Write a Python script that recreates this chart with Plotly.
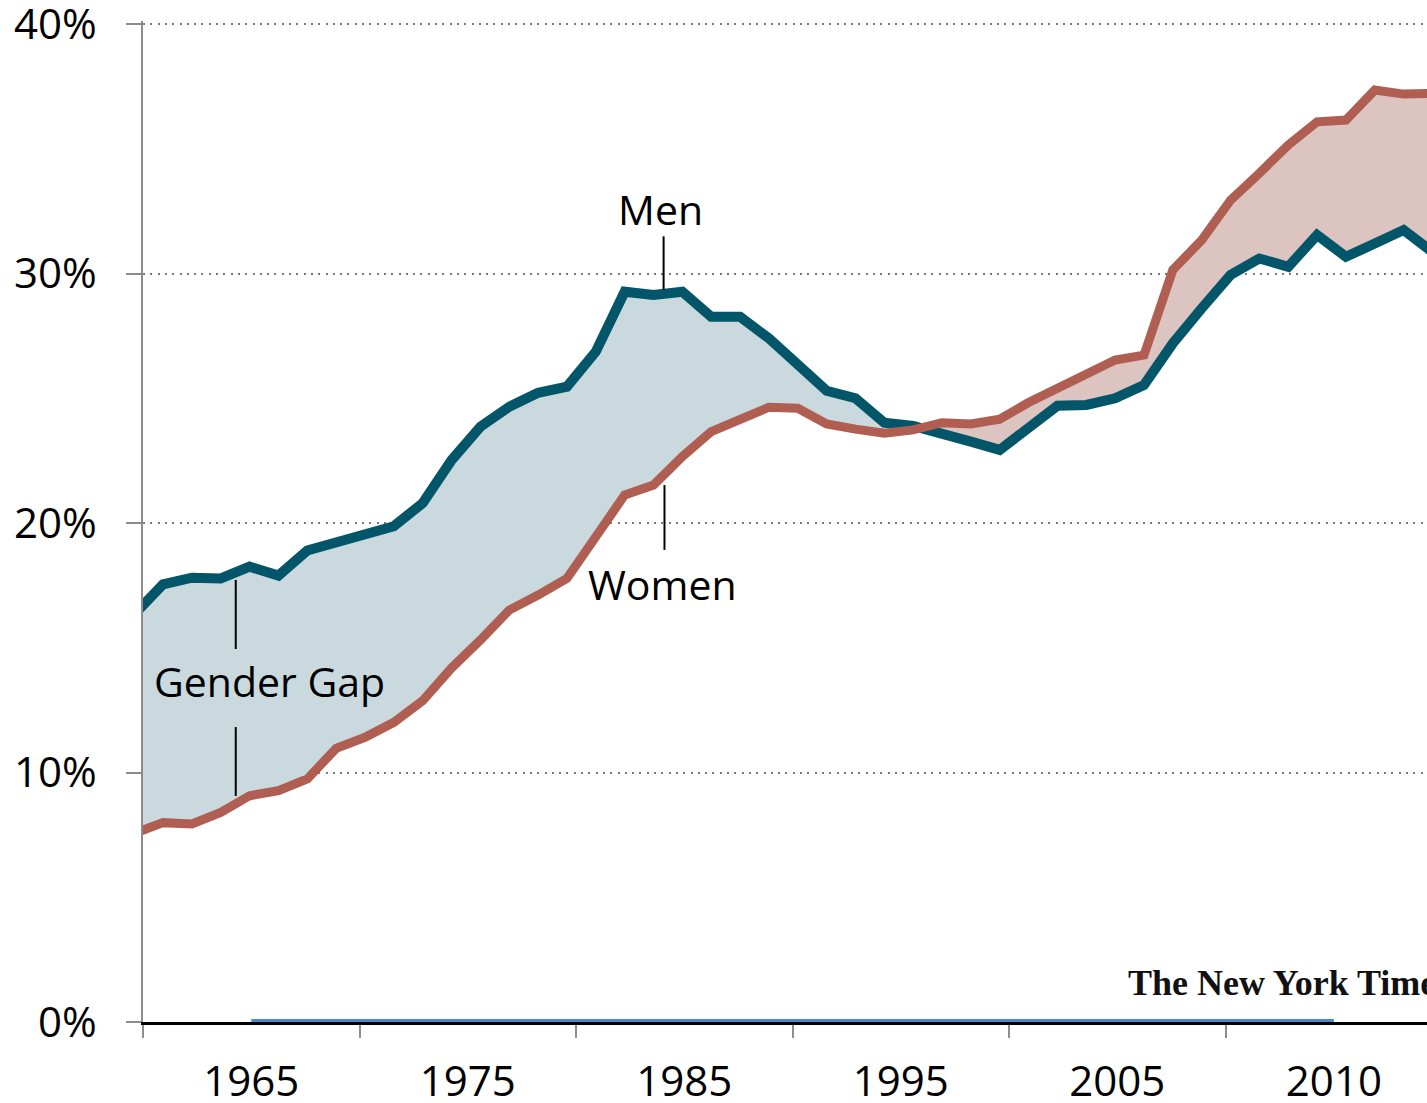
import plotly.graph_objects as go

# --- data (percent), one point every ~1.33 years ---
point = list(range(46))

men = [16.34, 17.54, 17.81, 17.78, 18.25, 17.89, 18.9, 19.25, 19.61, 19.87,
       20.8, 22.52, 23.86, 24.66, 25.22, 25.46, 26.87, 29.27, 29.14, 29.27,
       28.27, 28.27, 27.4, 26.4, 25.3, 25.0, 24.02, 23.89, 23.62, 23.26,
       22.93, 23.86, 24.7, 24.73, 25.0, 25.53, 27.2, 28.6, 29.94, 30.6,
       30.27, 31.54, 30.67, 31.2, 31.74, 30.86]

women = [7.56, 7.99, 7.94, 8.40, 9.07, 9.27, 9.74, 10.97, 11.41, 12.01,
         12.88, 14.19, 15.31, 16.51, 17.11, 17.78, 19.45, 21.12, 21.52, 22.66,
         23.66, 24.19, 24.64, 24.60, 23.97, 23.76, 23.60, 23.73, 24.02, 23.97,
         24.16, 24.83, 25.37, 25.93, 26.53, 26.73, 30.14, 31.34, 32.94, 34.02,
         35.15, 36.08, 36.15, 37.35, 37.19, 37.22]

year_labels = ['1965', '1975', '1985', '1995', '2005', '2010']
y_ticks = [0, 10, 20, 30, 40]

# axis geometry (in point units)
x_start, x_end = 0.305, 44.81
tick_step = 7.505
tick_pos = [x_start + tick_step * i for i in range(7)]
label_pos = [x_start + tick_step * (i + 0.5) for i in range(len(year_labels))]

TEAL = '#03566a'
RED = '#b05e52'
BLUE_FILL = '#c9d9de'
PINK_FILL = '#dcc4c0'
FONT = 'Open Sans'

upper = [max(m, w) for m, w in zip(men, women)]

fig = go.Figure()

# gap where men lead (blue)
fig.add_trace(go.Scatter(x=point, y=women, mode='lines', line=dict(width=0),
                         showlegend=False, hoverinfo='skip'))
fig.add_trace(go.Scatter(x=point, y=upper, mode='lines', line=dict(width=0),
                         fill='tonexty', fillcolor=BLUE_FILL,
                         showlegend=False, hoverinfo='skip'))
# gap where women lead (pink)
fig.add_trace(go.Scatter(x=point, y=men, mode='lines', line=dict(width=0),
                         showlegend=False, hoverinfo='skip'))
fig.add_trace(go.Scatter(x=point, y=upper, mode='lines', line=dict(width=0),
                         fill='tonexty', fillcolor=PINK_FILL,
                         showlegend=False, hoverinfo='skip'))

fig.add_trace(go.Scatter(x=point, y=men, name='Men', mode='lines',
                         line=dict(color=TEAL, width=10)))
fig.add_trace(go.Scatter(x=point, y=women, name='Women', mode='lines',
                         line=dict(color=RED, width=9)))

# flat helper series on the category positions
fig.add_trace(go.Scatter(x=[label_pos[0], label_pos[-1]], y=[0, 0], mode='lines',
                         line=dict(color='#4a8ccb', width=6),
                         showlegend=False, hoverinfo='skip'))

# annotation lines
for x0, y0, y1 in [(18.35, 31.49, 29.34), (18.38, 21.52, 18.92),
                   (3.52, 17.72, 14.95), (3.52, 11.82, 9.06)]:
    fig.add_shape(type='line', x0=x0, x1=x0, y0=y0, y1=y1,
                  line=dict(color='black', width=2))

fig.add_annotation(x=18.25, y=32.6, text='Men', showarrow=False,
                   font=dict(family=FONT, size=41, color='black'))
fig.add_annotation(x=18.3, y=17.55, text='Women', showarrow=False,
                   font=dict(family=FONT, size=41, color='black'))
fig.add_annotation(x=0.62, y=13.67, text='Gender Gap', showarrow=False,
                   xanchor='left', font=dict(family=FONT, size=41, color='black'))
fig.add_annotation(x=0.7656, y=0.039, xref='paper', yref='paper',
                   text='<b>The New York Times</b>', showarrow=False,
                   xanchor='left', yanchor='middle',
                   font=dict(family='Liberation Serif', size=36, color='#111'))

fig.update_layout(
    width=1427, height=1103,
    margin=dict(l=143, r=0, t=21, b=81, autoexpand=False),
    paper_bgcolor='white', plot_bgcolor='white',
    showlegend=False,
    font=dict(family=FONT, size=42, color='black'),
    xaxis=dict(range=[x_start, x_end], tickmode='array', tickvals=tick_pos,
               showticklabels=False, ticks='outside', ticklen=13, tickwidth=1.5,
               tickcolor='#8c8c8c', showgrid=False, zeroline=False,
               showline=True, linecolor='black', linewidth=3,
               layer='below traces', automargin=False),
    xaxis2=dict(overlaying='x', matches='x', anchor='y', side='bottom',
                tickmode='array', tickvals=label_pos, ticktext=year_labels,
                ticks='', showgrid=False, zeroline=False, showline=False,
                tickfont=dict(family=FONT, size=42, color='black'),
                ticklabelstandoff=31, ticklabeloverflow='allow',
                automargin=False),
    yaxis=dict(range=[0, 40.12], tickmode='array', tickvals=y_ticks,
               ticktext=[f'{v}%' for v in y_ticks],
               ticks='outside', ticklen=15, tickwidth=1.5, tickcolor='#8c8c8c',
               showline=True, linecolor='#8c8c8c', linewidth=1.5,
               showgrid=True, gridcolor='#7a7a7a', gridwidth=2,
               griddash='2px,5.3px', zeroline=False,
               tickfont=dict(family=FONT, size=42, color='black'),
               ticklabelstandoff=21, ticklabeloverflow='allow',
               automargin=False),
)

# dummy trace so that xaxis2 is rendered
fig.add_trace(go.Scatter(x=[label_pos[0]], y=[None], xaxis='x2',
                         showlegend=False, hoverinfo='skip'))

# drop the browser's default 8px body margin so the figure fills the window
fig.write_html('out.html', config={'displayModeBar': False},
               post_script="document.body.style.margin='0';"
                           "document.body.style.overflow='hidden';")
